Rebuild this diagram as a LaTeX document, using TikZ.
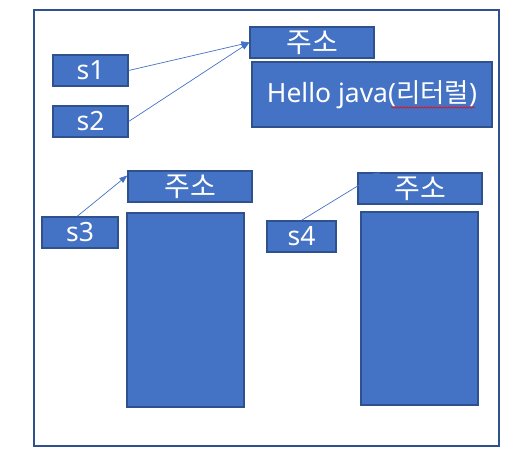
\documentclass[tikz,border=0pt]{standalone}
\usepackage{fontspec}
\setmainfont{Noto Sans}
\newfontfamily\kr{Noto Sans CJK KR}
\definecolor{boxblue}{HTML}{4472C4}
\definecolor{edgeblue}{HTML}{2F528F}
\usetikzlibrary{arrows.meta, positioning, decorations.pathmorphing}

\begin{document}
\begin{tikzpicture}[
    x=1pt, y=-1pt,
    cell/.style={draw=edgeblue, line width=1.3pt, fill=boxblue, text=white, inner sep=0pt,
        font=\fontsize{26.5}{30}\selectfont},
    var/.style={cell, minimum width=75pt, minimum height=31pt},
    addr/.style={cell, minimum width=124pt, minimum height=31pt, font=\fontsize{28}{30}\kr},
    heap/.style={cell, minimum width=117pt, minimum height=194pt},
    ptr/.style={-{Triangle[length=8pt, width=6pt]}, draw=boxblue, line width=0.7pt}
]
    \useasboundingbox (0,0) rectangle (522,457);
    \draw[edgeblue, line width=2pt] (34,10) rectangle (499,446);

    % string pool
    \node[addr] (addr1) at (312,42.5) {주소};
    \node[cell, minimum width=240pt, minimum height=65pt] (pool) at (372,94.5) {Hello java({\kr 리터럴})};
    \draw[red, line width=0.5pt, decorate, decoration={snake, amplitude=0.8pt, segment length=3pt}]
        ([xshift=19pt, yshift=-13pt]pool.center) -- ([xshift=103pt, yshift=-13pt]pool.center);
    \node[var] (s1) at (90.5,70.5) {s1};
    \node[var] (s2) at (90.5,121.5) {s2};

    % new String
    \node[addr] (addr3) at (190,186.5) {주소};
    \node[heap] (heap3) at (185.5,310) {};
    \node[var, minimum width=76pt] (s3) at (80,232.5) {s3};

    \node[addr] (addr4) at (420,188.5) {주소};
    \node[heap, minimum height=193pt] (heap4) at (419.5,308.5) {};
    \node[var, minimum width=69pt] (s4) at (301.5,236.5) {s4};

    \draw[ptr] (s1.east) -- (addr1.west);
    \draw[ptr] (s2.east) -- (addr1.west);
    \draw[ptr] (s3.100) -- (addr3.170);
    \draw[ptr] (s4.north) -- (addr4.158);
\end{tikzpicture}
\end{document}
